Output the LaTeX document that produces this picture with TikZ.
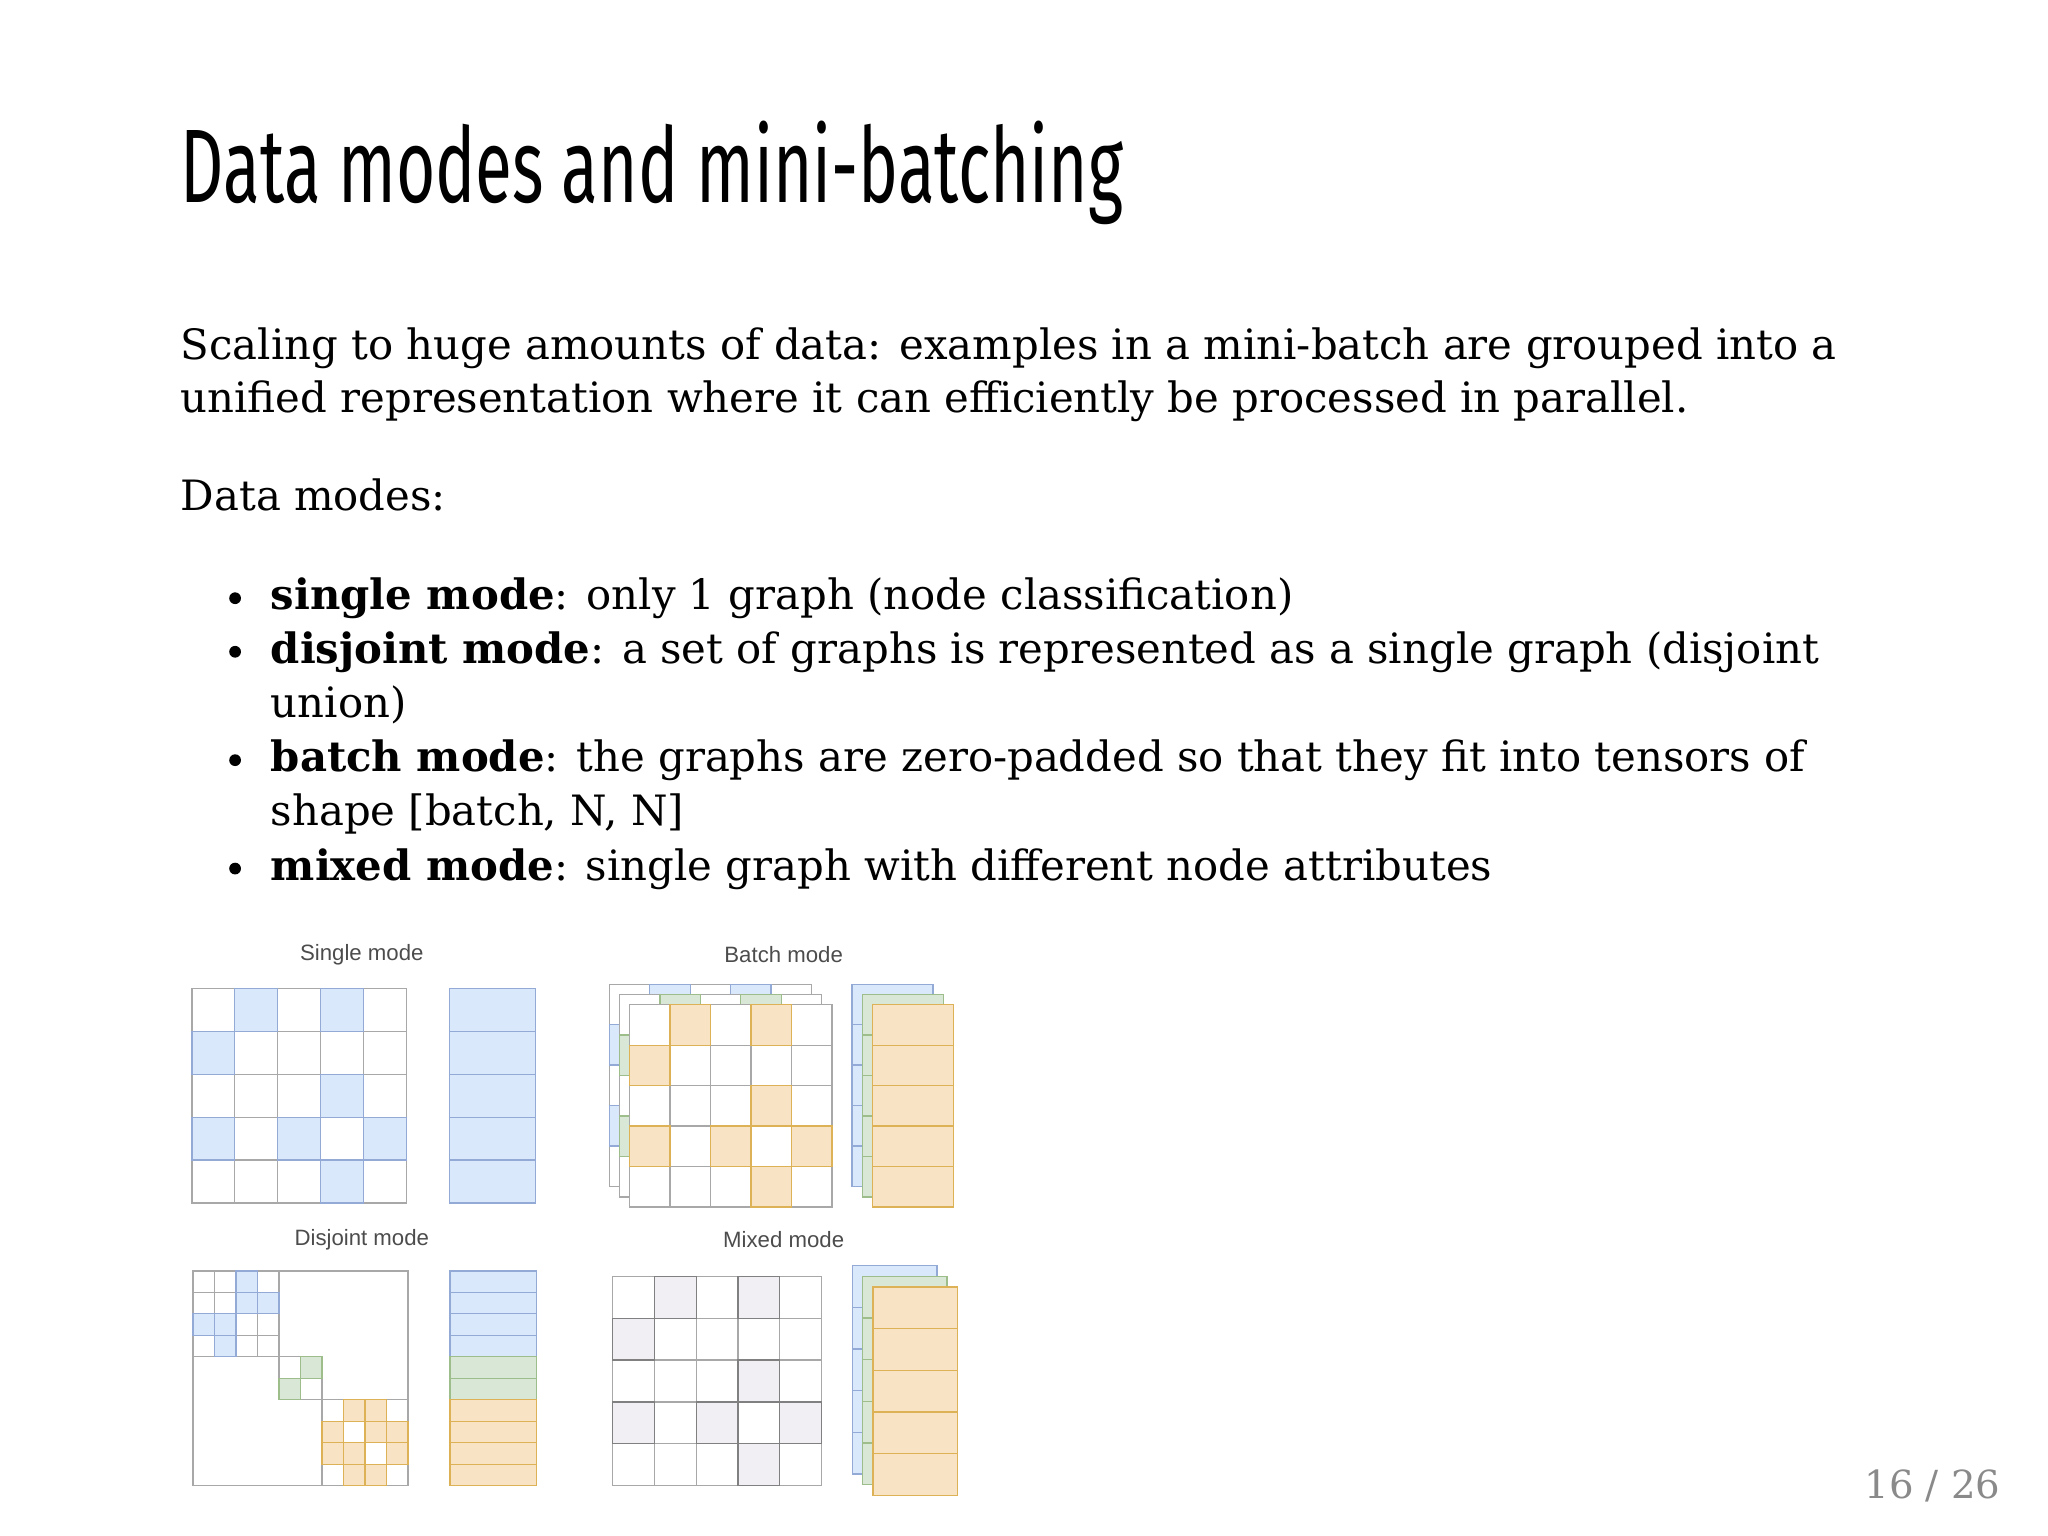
\documentclass[tikz,border=0pt]{standalone}
\usepackage{fontspec}
\setmainfont{DejaVu Serif}
\newfontfamily\titlefont[FakeStretch=0.645]{Fira Sans}
\newfontfamily\labelfont{Liberation Sans}
\definecolor{bluefill}{HTML}{DAE8FC}
\definecolor{bluedraw}{HTML}{93A9D6}
\definecolor{greenfill}{HTML}{D9E7D6}
\definecolor{greendraw}{HTML}{9DBE8A}
\definecolor{orangefill}{HTML}{F8E3C5}
\definecolor{orangedraw}{HTML}{DDB257}
\definecolor{mixfill}{HTML}{F1EFF4}
\definecolor{gridgray}{HTML}{A8A8A8}
\definecolor{pagegray}{HTML}{8A8A8A}
\tikzset{
  bodyline/.style={anchor=base west, inner sep=0pt, font=\fontsize{16}{19}\selectfont},
  modelabel/.style={inner sep=0pt, font=\labelfont\fontsize{8.5}{10}\selectfont, text=black!70},
  gridline/.style={draw=gridgray, line width=0.5pt}
}
% square grid: x, y, cell, n, fill, draw
\newcommand\cellgrid[6]{%
  \foreach \i in {1,...,#4}{\foreach \j in {1,...,#4}{%
    \filldraw[fill=#5, draw=#6, line width=0.5pt] ({#1+(\i-1)*#3},{#2+(\j-1)*#3}) rectangle ++(#3,#3);}}}
% coloured cells: x, y, cell, fill, draw, list r/c
\newcommand\cellmarks[6]{%
  \foreach \r/\c in {#6}{%
    \filldraw[fill=#4, draw=#5, line width=0.5pt] ({#1+\c*#3},{#2+\r*#3}) rectangle ++(#3,#3);}}
% column of rows: x, y, w, rowheight, n, fill, draw
\newcommand\featcol[7]{%
  \foreach \i in {1,...,#5}{%
    \filldraw[fill=#6, draw=#7, line width=0.5pt] (#1,{#2+(\i-1)*#4}) rectangle ++(#3,#4);}}
\begin{document}
\begin{tikzpicture}[x=0.5pt, y=-0.5pt]
\useasboundingbox (0,0) rectangle (1568,1176);

\node (title) [anchor=base west, inner sep=0pt, font=\titlefont\fontsize{40}{44}\selectfont] at (138,155) {Data modes and mini-batching};

\node (intro1) [bodyline] at (138,275) {Scaling to huge amounts of data: examples in a mini-batch are grouped into a};
\node (intro2) [bodyline] at (138,316) {unified representation where it can efficiently be processed in parallel.};
\node (modes) [bodyline] at (138,391) {Data modes:};
\foreach \yy in {467,508,591,674} \fill (180,\yy-9) circle (4.5);
\node (single) [bodyline] at (207,467) {\textbf{single mode}: only 1 graph (node classification)};
\node (disj1) [bodyline] at (207,508) {\textbf{disjoint mode}: a set of graphs is represented as a single graph (disjoint};
\node (disj2) [bodyline] at (207,549) {union)};
\node (batch1) [bodyline] at (207,591) {\textbf{batch mode}: the graphs are zero-padded so that they fit into tensors of};
\node (batch2) [bodyline] at (207,632) {shape [batch, N, N]};
\node (mixed) [bodyline] at (207,674) {\textbf{mixed mode}: single graph with different node attributes};

\node (pagenum) [anchor=base east, inner sep=0pt, text=pagegray, font=\fontsize{14.8}{18}\selectfont] at (1532,1147) {16 / 26};

% single mode
\node (lsingle) [modelabel] at (277,731) {Single mode};
\cellgrid{147}{757}{32.8}{5}{white}{gridgray}
\cellmarks{147}{757}{32.8}{bluefill}{bluedraw}{0/1,0/3,1/0,2/3,3/0,3/2,3/4,4/3}
\featcol{344}{757}{66}{32.8}{5}{bluefill}{bluedraw}

% batch mode
\node (lbatch) [modelabel] at (600,731) {Batch mode};
\cellgrid{466.4}{753.5}{31}{5}{white}{gridgray}
\cellmarks{466.4}{753.5}{31}{bluefill}{bluedraw}{0/1,0/3,1/0,2/3,3/0,3/2,3/4,4/3}
\cellgrid{474.2}{761.4}{31}{5}{white}{gridgray}
\cellmarks{474.2}{761.4}{31}{greenfill}{greendraw}{0/1,0/3,1/0,2/3,3/0,3/2,3/4,4/3}
\cellgrid{482}{769.2}{31}{5}{white}{gridgray}
\cellmarks{482}{769.2}{31}{orangefill}{orangedraw}{0/1,0/3,1/0,2/3,3/0,3/2,3/4,4/3}
\featcol{652.3}{753.5}{62}{31}{5}{bluefill}{bluedraw}
\featcol{660.1}{761.4}{62}{31}{5}{greenfill}{greendraw}
\featcol{667.9}{769.2}{62}{31}{5}{orangefill}{orangedraw}

% disjoint mode
\node (ldisjoint) [modelabel] at (277,949) {Disjoint mode};
\draw[gridline, fill=white] (147.8,973) rectangle ++(164.5,164.5);
\cellgrid{147.8}{973}{16.45}{4}{white}{gridgray}
\cellmarks{147.8}{973}{16.45}{bluefill}{bluedraw}{0/2,1/2,1/3,2/0,2/1,3/1}
\cellgrid{213.6}{1038.8}{16.45}{2}{white}{gridgray}
\cellmarks{213.6}{1038.8}{16.45}{greenfill}{greendraw}{0/1,1/0}
\cellgrid{246.5}{1071.7}{16.45}{4}{white}{gridgray}
\cellmarks{246.5}{1071.7}{16.45}{orangefill}{orangedraw}{0/1,0/2,1/0,1/2,1/3,2/0,2/1,2/3,3/1,3/2}
\featcol{344.6}{973}{66}{16.45}{4}{bluefill}{bluedraw}
\featcol{344.6}{1038.8}{66}{16.45}{2}{greenfill}{greendraw}
\featcol{344.6}{1071.7}{66}{16.45}{4}{orangefill}{orangedraw}

% mixed mode
\node (lmixed) [modelabel] at (600,949) {Mixed mode};
\cellgrid{469}{977.3}{32}{5}{white}{gridgray}
\cellmarks{469}{977.3}{32}{mixfill}{black!50}{0/1,0/3,1/0,2/3,3/0,3/2,3/4,4/3}
\featcol{652.7}{969.1}{64.6}{31.9}{5}{bluefill}{bluedraw}
\featcol{660.5}{977.3}{64.6}{31.9}{5}{greenfill}{greendraw}
\featcol{668.3}{985.4}{64.6}{31.9}{5}{orangefill}{orangedraw}
\end{tikzpicture}
\end{document}
